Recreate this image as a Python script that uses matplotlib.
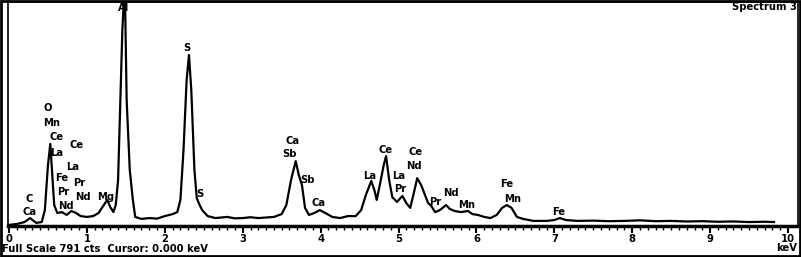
import numpy as np
import matplotlib.pyplot as plt
from matplotlib.patches import Rectangle

# EDS spectrum (keV, counts)
energy = [0.00, 0.10, 0.20, 0.27, 0.35, 0.42, 0.46, 0.50, 0.53, 0.555, 0.58, 0.62,
          0.68, 0.74, 0.80, 0.86, 0.92, 1.00, 1.08, 1.15, 1.20, 1.26, 1.30, 1.34,
          1.37, 1.40, 1.43, 1.455, 1.475, 1.49, 1.51, 1.55, 1.59, 1.62, 1.70, 1.80,
          1.90, 2.00, 2.10, 2.16, 2.20, 2.24, 2.28, 2.31, 2.34, 2.38, 2.41, 2.44,
          2.48, 2.55, 2.65, 2.80, 2.90, 3.00, 3.10, 3.20, 3.30, 3.40, 3.50, 3.56,
          3.62, 3.68, 3.72, 3.76, 3.80, 3.85, 3.92, 3.99, 4.06, 4.15, 4.25, 4.35,
          4.45, 4.52, 4.58, 4.65, 4.69, 4.72, 4.76, 4.81, 4.84, 4.88, 4.92, 4.98,
          5.05, 5.10, 5.15, 5.19, 5.24, 5.29, 5.34, 5.38, 5.42, 5.47, 5.53, 5.61,
          5.66, 5.72, 5.80, 5.89, 5.95, 6.02, 6.10, 6.18, 6.26, 6.33, 6.39, 6.45,
          6.52, 6.60, 6.73, 6.90, 7.00, 7.07, 7.15, 7.30, 7.50, 7.70, 7.90, 8.10,
          8.30, 8.50, 8.70, 8.90, 9.10, 9.30, 9.50, 9.70, 9.82]
counts = [4, 7, 14, 28, 11, 14, 56, 215, 290, 180, 74, 46,
          49, 39, 53, 46, 35, 32, 35, 46, 67, 92, 67, 49,
          74, 162, 445, 692, 800, 791, 445, 198, 92, 32, 25, 28,
          26, 35, 42, 49, 92, 268, 515, 604, 480, 198, 99, 78,
          56, 35, 28, 32, 27, 28, 31, 28, 30, 32, 42, 74,
          162, 229, 180, 145, 64, 39, 46, 56, 46, 32, 28, 35,
          35, 56, 109, 159, 127, 92, 145, 215, 247, 162, 102, 85,
          106, 81, 64, 109, 169, 145, 109, 81, 71, 49, 56, 74,
          60, 53, 49, 53, 42, 39, 32, 28, 39, 64, 74, 64,
          32, 25, 18, 18, 21, 28, 21, 18, 19, 17, 18, 20,
          17, 18, 16, 17, 15, 16, 14, 15, 14]

# peak labels: text, keV, counts
lab_text = ["O", "Mn", "Ce", "Ce", "La", "La", "Fe", "Pr", "Pr", "Nd", "Mg", "Nd",
            "C", "Ca", "Al", "S", "S", "Ca", "Sb", "Sb", "Ca", "Ce", "La", "La",
            "Pr", "Ce", "Nd", "Pr", "Nd", "Mn", "Fe", "Mn", "Fe"]
lab_x = [0.50, 0.55, 0.61, 0.87, 0.61, 0.82, 0.68, 0.90, 0.70, 0.95, 1.245, 0.73,
         0.26, 0.27, 1.476, 2.285, 2.45, 3.64, 3.60, 3.83, 3.98, 4.84, 4.63, 5.00,
         5.02, 5.225, 5.20, 5.47, 5.67, 5.88, 6.39, 6.47, 7.05]
lab_y = [417, 364, 314, 286, 258, 208, 169, 152, 120, 102, 102, 71,
         95, 49, 770, 628, 113, 301, 254, 162, 80, 268, 177, 177,
         130, 262, 212, 86, 115, 74, 148, 95, 48]

font = dict(family="DejaVu Sans", fontsize=7.2, fontweight="bold")

fig = plt.figure(figsize=(8.01, 2.57), dpi=100)
ax = fig.add_axes([8 / 801, 1 - 226 / 257, 790 / 801, 224 / 257])
ax.plot(energy, counts, color="black", lw=1.6, clip_on=True)
ax.set_xlim(-0.013, 10.128)
ax.set_ylim(0, 791)

for t, x, y in zip(lab_text, lab_x, lab_y):
    ax.text(x, y, t, ha="center", va="center", **font)

ax.set_xticks(range(11))
ax.set_xticklabels([str(i) for i in range(11)], **font)
ax.set_xticks(np.arange(0, 10.05, 0.1), minor=True)
ax.tick_params(axis="x", which="major", direction="out", length=5, width=1.5, pad=1)
ax.tick_params(axis="x", which="minor", direction="out", length=3, width=1)
ax.set_yticks([])
ax.spines["bottom"].set_linewidth(2.5)
for s in ["left", "right", "top"]:
    ax.spines[s].set_linewidth(1.2)

fig.text(797 / 801, 1 - 7 / 257, "Spectrum 3", ha="right", va="center", **font)
fig.text(2 / 801, 1 - 249 / 257, "Full Scale 791 cts  Cursor: 0.000 keV",
         ha="left", va="center", **font)
fig.text(797 / 801, 1 - 248 / 257, "keV", ha="right", va="center", **font)

fig.patches.append(Rectangle((0.001, 0.002), 0.998, 0.996, transform=fig.transFigure,
                             fill=False, lw=2, edgecolor="black"))

fig.savefig("out.png", dpi=100)
